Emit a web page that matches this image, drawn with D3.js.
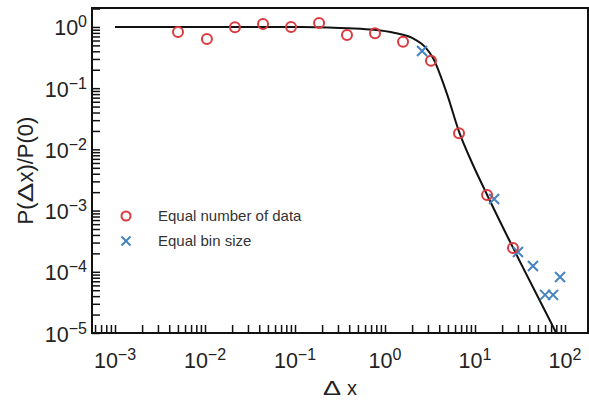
<!DOCTYPE html>
<html>
<head>
<meta charset="utf-8">
<script src="https://cdn.jsdelivr.net/npm/d3@7"></script>
<style>
  body { margin: 0; background: #fff; }
  svg { display: block; font-family: "Liberation Sans", Arial, Helvetica, sans-serif; }
</style>
</head>
<body>
<div id="vis"></div>
<script>
// red circles: equal number of data per bin
const eqNumX = [0.00501, 0.0105, 0.0215, 0.0441, 0.0903, 0.185, 0.378, 0.774, 1.585, 3.24, 6.64, 13.6, 26.4];
const eqNumY = [0.829, 0.637, 0.99, 1.12, 1.0, 1.16, 0.74, 0.79, 0.575, 0.28, 0.0183, 0.0018, 0.000245];

// blue crosses: equal bin size
const binX = [2.58, 16.3, 30, 44, 60, 73.6, 88];
const binY = [0.405, 0.00155, 0.00021, 0.000124, 0.000042, 0.000042, 0.000082];

// fitted curve
const fitX = [0.001, 0.114, 0.316, 0.681, 1.29, 2.0, 2.78, 3.41, 4.89, 6.64, 9.26, 13.6, 26.4, 79.4, 113.6];
const fitY = [1.0, 1.0, 0.963, 0.910, 0.798, 0.662, 0.472, 0.312, 0.0800, 0.0195, 0.00604, 0.001817, 0.000248, 0.0000102, 0.00000356];

// axis decades
const xDecades = [-3, -2, -1, 0, 1, 2];
const yDecades = [-5, -4, -3, -2, -1, 0];

const width = 589;
const height = 401;
const margin = { top: 8, right: 1, bottom: 68, left: 92 };
const iw = width - margin.left - margin.right;
const ih = height - margin.top - margin.bottom;

const svg = d3.select("#vis").append("svg")
  .attr("width", width)
  .attr("height", height);

const g = svg.append("g").attr("transform", `translate(${margin.left},${margin.top})`);

const x = d3.scaleLog().domain([5.55e-4, 180]).range([0, iw]);
const y = d3.scaleLog().domain([1e-5, 2.04]).range([ih, 0]);

// minor + major ticks at 1..9 x 10^k
function logTicks(lo, hi) {
  const t = [];
  for (let k = lo; k <= hi; k++) {
    for (let m = 1; m <= 9; m++) t.push(m * Math.pow(10, k));
  }
  return t;
}
const xTickVals = logTicks(-4, 2).filter((v) => v >= x.domain()[0] && v <= x.domain()[1]);
const yTickVals = logTicks(-5, 0).filter((v) => v >= y.domain()[0] && v <= y.domain()[1]);

g.append("defs").append("clipPath").attr("id", "clip")
  .append("rect").attr("width", iw).attr("height", ih);

// inward ticks
const xAxis = g.append("g")
  .attr("transform", `translate(0,${ih})`)
  .call(d3.axisBottom(x).tickValues(xTickVals).tickSize(-8).tickFormat(() => ""));
const yAxis = g.append("g")
  .call(d3.axisLeft(y).tickValues(yTickVals).tickSize(-8).tickFormat(() => ""));
[xAxis, yAxis].forEach((a) => {
  a.select(".domain").remove();
  a.selectAll(".tick line").attr("stroke", "#111").attr("stroke-width", 1.5);
});

// frame
g.append("rect")
  .attr("width", iw)
  .attr("height", ih)
  .attr("fill", "none")
  .attr("stroke", "#111")
  .attr("stroke-width", 2);

// decade labels with superscripts
function powLabel(sel, k) {
  sel.append("tspan").text("10");
  sel.append("tspan")
    .attr("dy", -8)
    .attr("font-size", 16)
    .text(k < 0 ? "\u2212" + (-k) : String(k));
}

xDecades.forEach((k) => {
  const t = g.append("text")
    .attr("x", x(Math.pow(10, k)))
    .attr("y", ih + 35)
    .attr("text-anchor", "middle")
    .attr("font-size", 21.5)
    .attr("fill", "#222");
  powLabel(t, k);
});

yDecades.forEach((k) => {
  const t = g.append("text")
    .attr("x", -5)
    .attr("y", y(Math.pow(10, k)) + 8.5)
    .attr("text-anchor", "end")
    .attr("font-size", 21.5)
    .attr("fill", "#222");
  powLabel(t, k);
});

// title made of pieces; the Delta glyph is drawn wide like the original
function titleText(parent, pieces, size) {
  const grp = parent.append("g");
  const items = [];
  let pos = 0;
  pieces.forEach((p) => {
    const t = grp.append("text")
      .attr("font-size", size)
      .attr("fill", "#222")
      .text(p.t);
    items.push({ t, left: pos, sx: p.sx });
    pos += t.node().getComputedTextLength() * p.sx + (p.gap || 0);
  });
  items.forEach((it) => {
    it.t.attr("transform", `translate(${it.left - pos / 2},0) scale(${it.sx},1)`);
  });
  return grp;
}

titleText(svg, [{ t: "\u0394", sx: 1.35, gap: 6 }, { t: "x", sx: 1 }], 20)
  .attr("transform", `translate(${margin.left + iw / 2},395)`);

titleText(svg, [{ t: "P(", sx: 1 }, { t: "\u0394", sx: 1.35 }, { t: "x)/P(0)", sx: 1 }], 22)
  .attr("transform", `translate(33,${margin.top + ih / 2}) rotate(-90)`);

// fit line
const fit = fitX.map((v, i) => ({ x: v, y: fitY[i] }));
g.append("path")
  .datum(fit)
  .attr("clip-path", "url(#clip)")
  .attr("fill", "none")
  .attr("stroke", "#111")
  .attr("stroke-width", 2)
  .attr("d", d3.line().x((d) => x(d.x)).y((d) => y(d.y)).curve(d3.curveMonotoneX));

const red = "#dc3a3e";
const blue = "#4683bf";

// crosses
function cross(sel, s) {
  return sel.append("path")
    .attr("d", `M${-s},${-s}L${s},${s}M${-s},${s}L${s},${-s}`)
    .attr("stroke", blue)
    .attr("stroke-width", 2)
    .attr("fill", "none");
}

const binData = binX.map((v, i) => ({ x: v, y: binY[i] }));
binData.forEach((d) => {
  const c = g.append("g").attr("transform", `translate(${x(d.x)},${y(d.y)})`);
  cross(c, 5);
});

const eqData = eqNumX.map((v, i) => ({ x: v, y: eqNumY[i] }));
g.selectAll(".circ")
  .data(eqData)
  .enter()
  .append("circle")
  .attr("class", "circ")
  .attr("cx", (d) => x(d.x))
  .attr("cy", (d) => y(d.y))
  .attr("r", 5)
  .attr("fill", "none")
  .attr("stroke", red)
  .attr("stroke-width", 2);

// legend
const legend = svg.append("g");
legend.append("circle")
  .attr("cx", 126).attr("cy", 216).attr("r", 4.5)
  .attr("fill", "none").attr("stroke", red).attr("stroke-width", 2);
legend.append("text")
  .attr("x", 158).attr("y", 221)
  .attr("font-size", 15).attr("fill", "#333")
  .text("Equal number of data");
cross(legend.append("g").attr("transform", "translate(126,241)"), 4.5);
legend.append("text")
  .attr("x", 158).attr("y", 246)
  .attr("font-size", 15).attr("fill", "#333")
  .text("Equal bin size");
</script>
</body>
</html>
